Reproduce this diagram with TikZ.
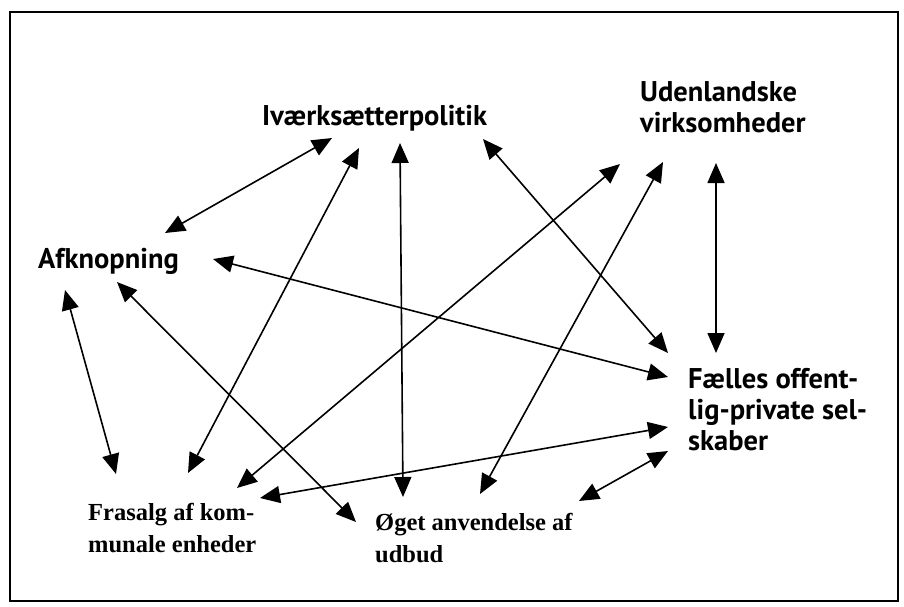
\documentclass[tikz,border=0pt]{standalone}
\usepackage{fontspec}
\newfontfamily\labsans{PT Sans}
\newfontfamily\labserif{Liberation Serif}
\usetikzlibrary{arrows.meta}
\begin{document}
\begin{tikzpicture}[x=1pt,y=-1pt,
  sanslab/.style={anchor=base west,inner sep=0pt,align=left,font=\labsans\bfseries\fontsize{28.5}{31}\selectfont},
  seriflab/.style={anchor=base west,inner sep=0pt,align=left,font=\labserif\bfseries\fontsize{24.5}{32}\selectfont},
  link/.style={line width=1.6pt,{Triangle[length=20pt,width=17pt]}-{Triangle[length=20pt,width=17pt]}}]
\useasboundingbox (0,0) rectangle (904,606);
\draw[line width=1.5pt] (10,12) rectangle (898,601);
% labels (anchor = baseline of the last line)
\node[sanslab] (iv) at (262,125) {Iværksætterpolitik};
\node[sanslab] (ud) at (640,132) {Udenlandske\\virksomheder};
\node[sanslab] (af) at (38,268) {Afknopning};
\node[sanslab] (fa) at (688,450) {Fælles offent-\\lig-private sel-\\skaber};
\node[seriflab] (fr) at (88,552) {Frasalg af kom-\\munale enheder};
\node[seriflab] (og) at (375,562) {Øget anvendelse af\\udbud};
% endpoints
\coordinate (af-iv-a) at (165,233); \coordinate (af-iv-b) at (332,138);
\coordinate (fr-iv-a) at (188,473); \coordinate (fr-iv-b) at (359,148);
\coordinate (og-iv-a) at (403,497); \coordinate (og-iv-b) at (400,143);
\coordinate (iv-fa-a) at (483,139); \coordinate (iv-fa-b) at (668,353);
\coordinate (fr-ud-a) at (237,488); \coordinate (fr-ud-b) at (620,164);
\coordinate (og-ud-a) at (480,494); \coordinate (og-ud-b) at (663,162);
\coordinate (ud-fa-a) at (716,163); \coordinate (ud-fa-b) at (716,353);
\coordinate (af-fa-a) at (213,259); \coordinate (af-fa-b) at (668,377);
\coordinate (af-og-a) at (117,282); \coordinate (af-og-b) at (356,522);
\coordinate (af-fr-a) at (65,290);  \coordinate (af-fr-b) at (116,474);
\coordinate (fr-fa-a) at (260,498); \coordinate (fr-fa-b) at (668,427);
\coordinate (og-fa-a) at (579,501); \coordinate (og-fa-b) at (668,451);
% connectors
\draw[link] (af-iv-a) -- (af-iv-b);
\draw[link] (fr-iv-a) -- (fr-iv-b);
\draw[link] (og-iv-a) -- (og-iv-b);
\draw[link] (iv-fa-a) -- (iv-fa-b);
\draw[link] (fr-ud-a) -- (fr-ud-b);
\draw[link] (og-ud-a) -- (og-ud-b);
\draw[link] (ud-fa-a) -- (ud-fa-b);
\draw[link] (af-fa-a) -- (af-fa-b);
\draw[link] (af-og-a) -- (af-og-b);
\draw[link] (af-fr-a) -- (af-fr-b);
\draw[link] (fr-fa-a) -- (fr-fa-b);
\draw[link] (og-fa-a) -- (og-fa-b);
\end{tikzpicture}
\end{document}
